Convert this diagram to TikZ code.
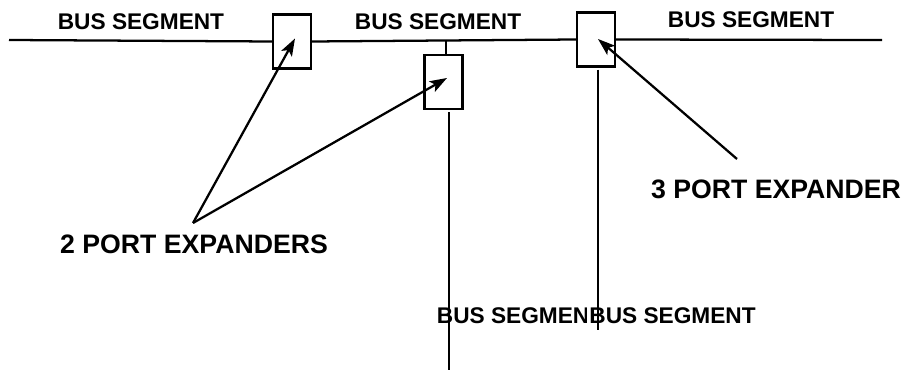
\documentclass[tikz,border=0pt]{standalone}
\usepackage{fontspec}
\setmainfont{Liberation Sans}
\usetikzlibrary{arrows.meta}

\tikzset{
    busline/.style={line width=1.7pt},
    portbox/.style={draw, line width=1.7pt, rectangle, minimum width=28.5pt, minimum height=40.5pt, inner sep=0pt},
    seglabel/.style={inner sep=0pt, font=\fontsize{17}{20}\selectfont\bfseries},
    explabel/.style={inner sep=0pt, font=\fontsize{20}{24}\selectfont\bfseries},
    pointer/.style={line width=1.7pt, -{Stealth[length=13pt,width=9pt,inset=3pt]}}
}

\begin{document}
\begin{tikzpicture}[x=0.75pt,y=0.75pt,yscale=-1,xscale=1]
    \useasboundingbox (0,0) rectangle (907,370);

        % labels
        \node[seglabel] (segL) at (141,22) {BUS SEGMENT};
        \node[seglabel] (segM) at (438,22) {BUS SEGMENT};
        \node[seglabel] (segR) at (751,20) {BUS SEGMENT};
        \node[seglabel] (segB) at (520,316) {BUS SEGMENT};
        \node[seglabel, fill=white, inner xsep=1.5pt, inner ysep=1pt] (segC) at (672.5,316) {BUS SEGMENT};
        \node[explabel] (twoport) at (194,244) {2 PORT EXPANDERS};
        \node[explabel] (threeport) at (776,189) {3 PORT EXPANDER};

        % expanders
        \node[portbox] (exA) at (292,41.5) {};
        \node[portbox] (exB) at (443.5,82) {};
        \node[portbox] (exC) at (596,39.5) {};

        % bus ends
        \coordinate (busL) at (9,40);
        \coordinate (busR) at (882,40);
        \coordinate (stubTop) at (446,40);
        \coordinate (dropB) at (449,370);
        \coordinate (dropC) at (598,330);

        \draw[busline] (busL) -- (exA.west);
        \draw[busline] (exA.east) -- (exC.west);
        \draw[busline] (exC.east) -- (busR);
        \draw[busline] (stubTop) -- (stubTop |- exB.north);
        \draw[busline] (dropB |- exB.south) ++(0,2) -- (dropB);
        \draw[busline] (dropC |- exC.south) ++(0,2) -- (dropC);

        % pointers
        \coordinate (twoFrom) at (193,223);
        \coordinate (threeFrom) at (737,159);
        \draw[pointer] (twoFrom) -- ([shift={(3,-3)}]exA.center);
        \draw[pointer] (twoFrom) -- ([shift={(3.5,-4)}]exB.center);
        \draw[pointer] (threeFrom) -- ([shift={(2,-0.5)}]exC.center);

\end{tikzpicture}
\end{document}
